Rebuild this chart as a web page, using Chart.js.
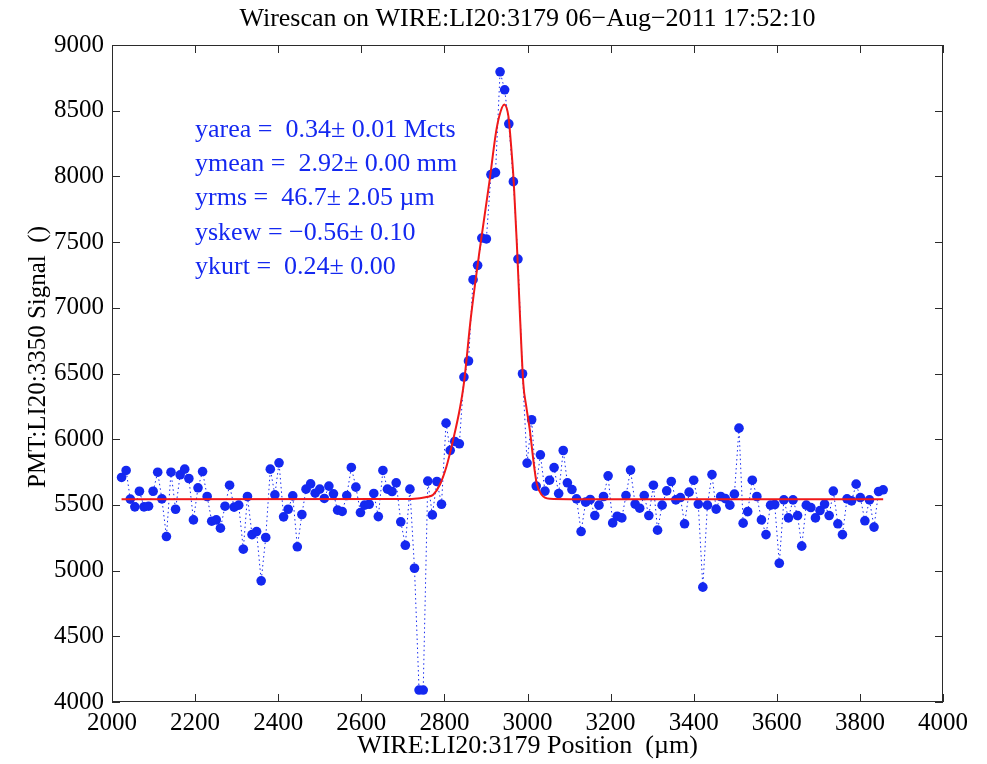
<!DOCTYPE html>
<html lang="en">
<head>
<meta charset="UTF-8">
<title>Wirescan on WIRE:LI20:3179</title>
<script src="https://cdn.jsdelivr.net/npm/chart.js"></script>
<style>
  html, body { margin: 0; padding: 0; background: #ffffff; }
  #wrap { width: 987px; height: 764px; }
</style>
</head>
<body>
<div id="wrap"><canvas id="scanChart" width="987" height="764"></canvas></div>
<script>
// wire position (um) and PMT signal for each scan step
const wirePos = [
  2023, 2034, 2044, 2055, 2066, 2077, 2088, 2099, 2110, 2120,
  2131, 2142, 2153, 2164, 2175, 2185, 2196, 2207, 2218, 2229,
  2240, 2251, 2261, 2272, 2283, 2294, 2305, 2316, 2326, 2337,
  2348, 2359, 2370, 2381, 2392, 2402, 2413, 2424, 2435, 2446,
  2457, 2467, 2478, 2489, 2500, 2511, 2522, 2533, 2543, 2554,
  2565, 2576, 2587, 2598, 2608, 2619, 2630, 2641, 2652, 2663,
  2674, 2684, 2695, 2706, 2717, 2728, 2739, 2749, 2760, 2771,
  2782, 2793, 2804, 2814, 2825, 2836, 2847, 2858, 2869, 2880,
  2890, 2901, 2912, 2923, 2934, 2945, 2955, 2966, 2977, 2988,
  2999, 3010, 3021, 3031, 3042, 3053, 3064, 3075, 3086, 3096,
  3107, 3118, 3129, 3140, 3151, 3162, 3172, 3183, 3194, 3205,
  3216, 3227, 3237, 3248, 3259, 3270, 3281, 3292, 3303, 3313,
  3324, 3335, 3346, 3357, 3368, 3378, 3389, 3400, 3411, 3422,
  3433, 3444, 3454, 3465, 3476, 3487, 3498, 3509, 3519, 3530,
  3541, 3552, 3563, 3574, 3585, 3595, 3606, 3617, 3628, 3639,
  3650, 3660, 3671, 3682, 3693, 3704, 3715, 3726, 3736, 3747,
  3758, 3769, 3780, 3791, 3801, 3812, 3823, 3834, 3845, 3856
];
const pmtSignal = [
  5709, 5762, 5544, 5485, 5604, 5485, 5490, 5604, 5749, 5546,
  5259, 5749, 5467, 5729, 5772, 5701, 5386, 5630, 5754, 5564,
  5376, 5386, 5323, 5490, 5650, 5483, 5498, 5163, 5564, 5274,
  5297, 4922, 5252, 5772, 5577, 5820, 5409, 5467, 5569, 5181,
  5427, 5620, 5660, 5589, 5620, 5549, 5643, 5584, 5460, 5450,
  5571, 5785, 5635, 5442, 5498, 5505, 5587, 5411, 5762, 5620,
  5602, 5668, 5371, 5193, 5620, 5018, 4091, 4091, 5681, 5424,
  5678, 5505, 6122, 5915, 5983, 5965, 6473, 6595, 7214, 7323,
  7531, 7524, 8014, 8029, 8796, 8659, 8400, 7960, 7371, 6498,
  5818, 6148, 5643, 5881, 5605, 5688, 5784, 5586, 5914, 5668,
  5617, 5546, 5297, 5521, 5541, 5419, 5498, 5564, 5721, 5363,
  5414, 5401, 5571, 5765, 5506, 5475, 5571, 5419, 5650, 5308,
  5498, 5607, 5678, 5538, 5556, 5356, 5597, 5688, 5506, 4874,
  5498, 5731, 5468, 5564, 5548, 5498, 5582, 6084, 5361, 5449,
  5688, 5564, 5386, 5274, 5498, 5503, 5056, 5538, 5401, 5538,
  5419, 5186, 5498, 5480, 5401, 5457, 5506, 5419, 5605, 5356,
  5274, 5546, 5531, 5658, 5556, 5379, 5538, 5331, 5602, 5615
];

// asymmetric gaussian fit
const fitPos = [
  2023, 2700, 2741, 2760, 2773, 2789, 2805, 2821, 2837, 2847,
  2864, 2885, 2908, 2924, 2932, 2944, 2954, 2958, 2967, 2975,
  2982, 2990, 2997, 3006, 3014, 3022, 3034, 3054, 3100, 3856
];
const fitSignal = [
  5543, 5544, 5551, 5562, 5577, 5653, 5792, 5995, 6230, 6427,
  6934, 7442, 7950, 8331, 8458, 8547, 8458, 8331, 7950, 7442,
  6934, 6420, 6250, 6060, 5843, 5666, 5577, 5546, 5543, 5543
];

const xTicks = [2000, 2200, 2400, 2600, 2800, 3000, 3200, 3400, 3600, 3800, 4000];
const yTicks = [4000, 4500, 5000, 5500, 6000, 6500, 7000, 7500, 8000, 8500, 9000];

const plotTitle = 'Wirescan on WIRE:LI20:3179 06\u2212Aug\u22122011 17:52:10';
const xLabel = 'WIRE:LI20:3179 Position  (\u00b5m)';
const yLabel = 'PMT:LI20:3350 Signal  ()';
const fitStats = [
  'yarea =  0.34\u00b1 0.01 Mcts',
  'ymean =  2.92\u00b1 0.00 mm',
  'yrms =  46.7\u00b1 2.05 \u00b5m',
  'yskew = \u22120.56\u00b1 0.10',
  'ykurt =  0.24\u00b1 0.00'
];

const SERIF = '"Liberation Serif", "Times New Roman", serif';
const BLUE = 'rgb(20, 40, 240)';
const RED = 'rgb(240, 25, 25)';

// matlab style box with inward ticks, title and fit results
const axesBox = {
  id: 'axesBox',
  afterDraw(chart) {
    const { ctx, chartArea: a, scales } = chart;
    ctx.save();
    ctx.strokeStyle = '#2b2b2b';
    ctx.lineWidth = 1;
    ctx.strokeRect(a.left + 0.5, a.top + 0.5, a.right - a.left - 1, a.bottom - a.top - 1);
    ctx.beginPath();
    xTicks.forEach(v => {
      const px = Math.round(scales.x.getPixelForValue(v)) + 0.5;
      ctx.moveTo(px, a.bottom); ctx.lineTo(px, a.bottom - 8);
      ctx.moveTo(px, a.top); ctx.lineTo(px, a.top + 8);
    });
    yTicks.forEach(v => {
      const py = Math.round(scales.y.getPixelForValue(v)) + 0.5;
      ctx.moveTo(a.left, py); ctx.lineTo(a.left + 8, py);
      ctx.moveTo(a.right, py); ctx.lineTo(a.right - 8, py);
    });
    ctx.stroke();

    ctx.fillStyle = '#000';
    ctx.textBaseline = 'alphabetic';
    ctx.font = '26px ' + SERIF;
    ctx.textAlign = 'center';
    ctx.fillText(plotTitle, (a.left + a.right) / 2, 26);

    ctx.save();
    ctx.translate(45, 357);
    ctx.rotate(-Math.PI / 2);
    ctx.font = '25px ' + SERIF;
    ctx.fillText(yLabel, 0, 0);
    ctx.restore();

    ctx.fillStyle = BLUE;
    ctx.textAlign = 'left';
    ctx.font = '26px ' + SERIF;
    fitStats.forEach((s, i) => ctx.fillText(s, 195, 137 + i * 34.2));
    ctx.restore();
  }
};

new Chart(document.getElementById('scanChart'), {
  type: 'scatter',
  data: {
    datasets: [
      {
        label: 'fit',
        data: fitPos.map((x, i) => ({ x: x, y: fitSignal[i] })),
        showLine: true,
        borderColor: RED,
        borderWidth: 2,
        pointRadius: 0,
        cubicInterpolationMode: 'monotone'
      },
      {
        label: 'signal',
        data: wirePos.map((x, i) => ({ x: x, y: pmtSignal[i] })),
        showLine: true,
        borderColor: BLUE,
        borderWidth: 1,
        borderDash: [1.5, 3],
        pointRadius: 4.8,
        pointBorderWidth: 0,
        pointBackgroundColor: BLUE
      }
    ]
  },
  options: {
    responsive: false,
    animation: false,
    devicePixelRatio: 1,
    layout: { padding: { top: 45, right: 44, left: 0, bottom: 0 } },
    plugins: {
      legend: { display: false },
      tooltip: { enabled: false }
    },
    scales: {
      x: {
        type: 'linear',
        min: 2000,
        max: 4000,
        afterBuildTicks: s => { s.ticks = xTicks.map(v => ({ value: v })); },
        afterFit: s => { s.height = 62; },
        grid: { display: false, drawTicks: false },
        border: { display: false },
        ticks: {
          color: '#000',
          font: { family: SERIF, size: 25 },
          padding: 6,
          maxRotation: 0,
          callback: v => String(v)
        },
        title: {
          display: true,
          text: xLabel,
          color: '#000',
          font: { family: SERIF, size: 26 },
          padding: { top: 0, bottom: 2 }
        }
      },
      y: {
        type: 'linear',
        min: 4000,
        max: 9000,
        afterBuildTicks: s => { s.ticks = yTicks.map(v => ({ value: v })); },
        afterFit: s => { s.width = 112; },
        grid: { display: false, drawTicks: false },
        border: { display: false },
        ticks: {
          color: '#000',
          font: { family: SERIF, size: 25 },
          padding: 8,
          callback: v => String(v)
        }
      }
    }
  },
  plugins: [axesBox]
});
</script>
</body>
</html>
